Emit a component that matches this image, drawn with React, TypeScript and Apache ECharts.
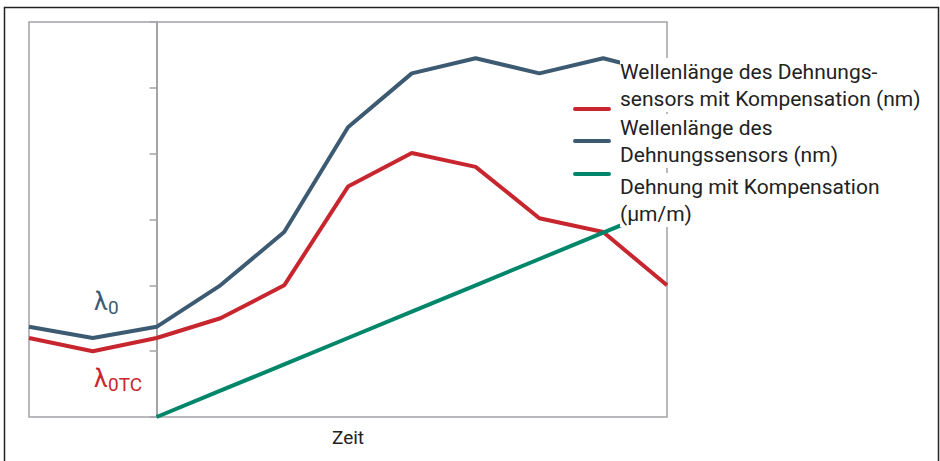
import React, { useEffect, useRef } from "react";
import * as echarts from "echarts";

const categories = ["t0", "t1", "t2", "t3", "t4", "t5", "t6", "t7", "t8", "t9", "t10"];
const sensorCompensated = [1.2, 1.0, 1.2, 1.5, 2.0, 3.5, 4.01, 3.8, 3.02, 2.81, 2.0];
const sensorRaw = [1.37, 1.2, 1.37, 2.0, 2.81, 4.4, 5.22, 5.45, 5.22, 5.45, 5.2];
const strainCompensated = [null, null, 0, 0.4, 0.8, 1.2, 1.6, 2.0, 2.4, 2.8, 3.2];

const seriesNames = [
  "Wellenlänge des Dehnungs-\nsensors mit Kompensation (nm)",
  "Wellenlänge des\nDehnungssensors (nm)",
  "Dehnung mit Kompensation\n(µm/m)",
];
const RED = "#c8262f";
const BLUE = "#3d5a73";
const GREEN = "#00876b";
const GRAY = "#a3a3a8";
const FONT = "Roboto, 'Noto Sans', sans-serif";

export default function App() {
  const ref = useRef<HTMLDivElement>(null);
  useEffect(() => {
    if (!ref.current) return;
    const chart = echarts.init(ref.current, null, { renderer: "svg" });
    const colors = [RED, BLUE, GREEN];
    const legendIconY = [109, 141, 174];
    const legendTextY = [58, 114, 173];
    const graphic: any[] = [
      {
        type: "rect",
        z: 100,
        shape: { x: 4.5, y: 7.5, width: 934, height: 480 },
        style: { fill: "none", stroke: "#222", lineWidth: 1.5 },
      },
    ];
    seriesNames.forEach((n, i) => {
      graphic.push({
        type: "text",
        z: 100,
        x: 620,
        y: legendTextY[i],
        style: {
          text: n,
          font: `21px ${FONT}`,
          fill: "#222",
          lineHeight: 27,
          backgroundColor: "#fff",
        },
      });
      graphic.push({
        type: "line",
        z: 100,
        shape: { x1: 575, y1: legendIconY[i], x2: 609, y2: legendIconY[i] },
        style: { stroke: colors[i], lineWidth: 4, lineCap: "round" },
      });
    });
    graphic.push(
      { type: "text", z: 100, x: 94, y: 301, style: { text: "λ", font: `25px ${FONT}`, fill: BLUE, verticalAlign: "middle" } },
      { type: "text", z: 100, x: 108, y: 307, style: { text: "0", font: `19px ${FONT}`, fill: BLUE, verticalAlign: "middle" } },
      { type: "text", z: 100, x: 94, y: 378, style: { text: "λ", font: `25px ${FONT}`, fill: RED, verticalAlign: "middle" } },
      { type: "text", z: 100, x: 108, y: 384, style: { text: "0TC", font: `19px ${FONT}`, fill: RED, verticalAlign: "middle" } }
    );

    chart.setOption({
      animation: false,
      grid: {
        left: 29,
        right: 273,
        top: 22,
        bottom: 44,
        show: true,
        borderColor: GRAY,
        borderWidth: 1.5,
      },
      xAxis: {
        type: "category",
        data: categories,
        boundaryGap: false,
        name: "Zeit",
        nameLocation: "middle",
        nameGap: 11,
        nameTextStyle: { fontFamily: FONT, fontSize: 19, color: "#222" },
        axisLine: { show: false },
        axisTick: { show: false },
        axisLabel: { show: false },
        splitLine: { show: false },
      },
      yAxis: {
        type: "value",
        min: 0,
        max: 6,
        interval: 1,
        position: "left",
        offset: -(156.6 - 29),
        axisLine: { show: true, lineStyle: { color: GRAY, width: 2 } },
        axisTick: { show: true, length: 7, lineStyle: { color: GRAY, width: 1.5 } },
        axisLabel: { show: false },
        splitLine: { show: false },
      },
      series: [
        {
          name: seriesNames[1],
          type: "line",
          data: sensorRaw,
          showSymbol: false,
          lineStyle: { color: BLUE, width: 4 },
          itemStyle: { color: BLUE },
        },
        {
          name: seriesNames[0],
          type: "line",
          data: sensorCompensated,
          showSymbol: false,
          lineStyle: { color: RED, width: 4 },
          itemStyle: { color: RED },
        },
        {
          name: seriesNames[2],
          type: "line",
          data: strainCompensated,
          showSymbol: false,
          lineStyle: { color: GREEN, width: 4 },
          itemStyle: { color: GREEN },
        },
      ],
      graphic,
    });
    return () => chart.dispose();
  }, []);
  return (
    <div
      ref={ref}
      style={{ position: "fixed", left: 0, top: 0, width: 940, height: 461, background: "#fff" }}
    />
  );
}
